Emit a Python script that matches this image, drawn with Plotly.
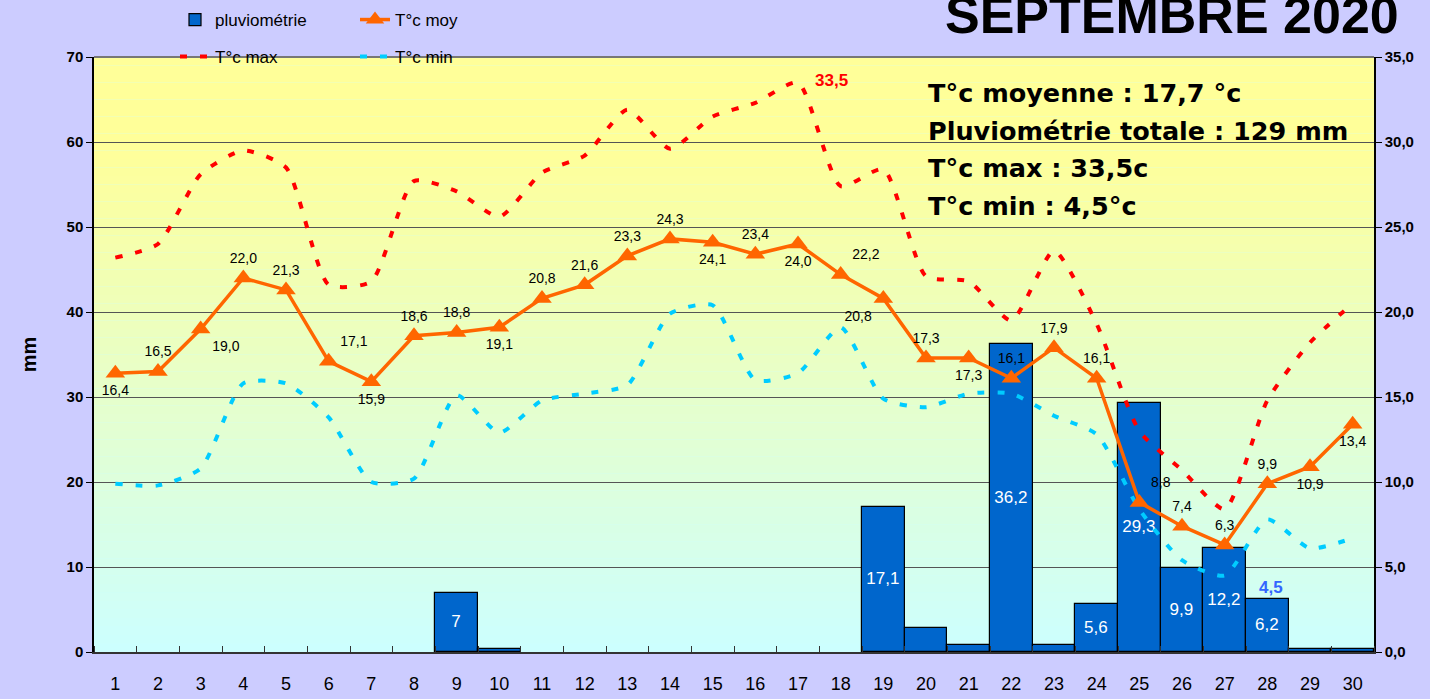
import plotly.graph_objects as go

days = list(range(1, 31))
pluvio = [0, 0, 0, 0, 0, 0, 0, 0, 7, 0.4, 0, 0, 0, 0, 0, 0, 0, 0, 17.1, 2.8,
          0.8, 36.2, 0.8, 5.6, 29.3, 9.9, 12.2, 6.2, 0.3, 0.3]
t_moy = [16.4, 16.5, 19.0, 22.0, 21.3, 17.1, 15.9, 18.6, 18.8, 19.1, 20.8, 21.6, 23.3, 24.3, 24.1,
         23.4, 24.0, 22.2, 20.8, 17.3, 17.3, 16.1, 17.9, 16.1, 8.8, 7.4, 6.3, 9.9, 10.9, 13.4]
t_max = [23.2, 24.0, 28.1, 29.5, 28.5, 21.6, 21.8, 27.7, 27.1, 25.6, 28.2, 29.2, 31.9, 29.6, 31.5,
         32.3, 33.5, 27.4, 28.4, 22.1, 21.8, 19.5, 23.6, 19.3, 13.0, 10.7, 8.4, 14.8, 18.2, 20.5]
t_min = [9.9, 9.8, 10.8, 15.8, 15.8, 13.8, 10.0, 10.2, 15.1, 12.9, 14.8, 15.2, 15.7, 19.9, 20.4,
         16.0, 16.4, 19.1, 14.9, 14.4, 15.2, 15.2, 13.9, 12.8, 8.4, 5.4, 4.5, 7.8, 6.1, 6.7]
mm_ticks = [0, 10, 20, 30, 40, 50, 60, 70]
t_ticks = [0, 5, 10, 15, 20, 25, 30, 35]
summary = ["T°c moyenne : 17,7 °c", "Pluviométrie totale : 129 mm", "T°c max : 33,5c", "T°c min : 4,5°c"]
title = "SEPTEMBRE 2020"


def fmt(v):
    return ("%g" % v).replace(".", ",")


def fmt1(v):
    return ("%.1f" % v).replace(".", ",")


moy_pos = ["bottom center", "top center", "bottom right", "top center", "top center", "top right",
           "bottom center", "top center", "top center", "bottom center", "top center", "top center",
           "top center", "top center", "bottom center", "top center", "bottom center", "top right",
           "bottom left", "top center", "bottom center", "top center", "top center", "top center",
           "top right", "top center", "top center", "top center", "bottom center", "bottom center"]

FONT = "Liberation Sans, Arial, sans-serif"
HEAVY = "DejaVu Sans, Liberation Sans, sans-serif"
fig = go.Figure()

fig.add_trace(go.Bar(
    x=days, y=[v if v > 0 else None for v in pluvio], name="pluviométrie",
    marker=dict(color="#0066CC", line=dict(color="black", width=1.2)),
    text=[fmt(v) if v >= 5 else "" for v in pluvio],
    textposition="inside", insidetextanchor="middle", textangle=0,
    textfont=dict(color="white", size=17, family=FONT),
    legend="legend", hoverinfo="skip",
))
fig.add_trace(go.Scatter(
    x=days, y=t_max, name="T°c max", yaxis="y2", mode="lines",
    line=dict(color="#FF0000", width=4, dash="7px,13px", shape="spline", smoothing=0.6),
    legend="legend2", hoverinfo="skip",
))
fig.add_trace(go.Scatter(
    x=days, y=t_min, name="T°c min", yaxis="y2", mode="lines",
    line=dict(color="#00CCFF", width=4, dash="7px,13px", shape="spline", smoothing=0.6),
    legend="legend2", hoverinfo="skip",
))
fig.add_trace(go.Scatter(
    x=days, y=t_moy, name="T°c moy", yaxis="y2", mode="lines+markers+text",
    line=dict(color="#FF6600", width=3.5),
    marker=dict(symbol="triangle-up", size=17, color="#FF6600"),
    text=[fmt1(v) for v in t_moy], textposition=moy_pos,
    textfont=dict(color="black", size=14, family=FONT),
    legend="legend", hoverinfo="skip",
))

# gradient background stripes
shapes = []
N = 70
c0 = (0xCC, 0xFF, 0xFF)
c1 = (0xFF, 0xFF, 0x99)
for i in range(N):
    f = (i + 0.5) / N
    g = min(1.0, f / 0.85)
    col = tuple(round(a + (b - a) * g) for a, b in zip(c0, c1))
    shapes.append(dict(type="rect", xref="x domain", yref="y domain", x0=0, x1=1,
                       y0=i / N, y1=(i + 1) / N, fillcolor="rgb(%d,%d,%d)" % col,
                       line=dict(width=0), layer="below"))

PW, PH = 1280, 595
annotations = [
    dict(text="<b>%s</b>" % title, xref="paper", yref="paper", x=(1172 - 94) / PW,
         y=(652 - 46) / PH, xanchor="center", yanchor="bottom", showarrow=False,
         font=dict(size=52, color="black", family=FONT)),
    dict(text="<b>33,5</b>", x=17, y=t_max[16], xref="x", yref="y2", xshift=33, yshift=2,
         showarrow=False, font=dict(size=17, color="#FF0000", family=FONT)),
    dict(text="<b>4,5</b>", x=27, y=t_min[26], xref="x", yref="y2", xshift=46, yshift=-12,
         showarrow=False, font=dict(size=17, color="#3366FF", family=FONT)),
]
for i, s in enumerate(summary):
    annotations.append(dict(text="<b>%s</b>" % s, xref="paper", yref="paper", x=(926 - 94) / PW,
                            y=(652 - 93 - 37.7 * i) / PH, xanchor="left", yanchor="middle",
                            showarrow=False, font=dict(size=25.5, color="black", family=HEAVY)))

fig.update_layout(
    width=1430, height=699,
    margin=dict(l=94, r=56, t=57, b=47, autoexpand=False),
    paper_bgcolor="#CCCCFF", plot_bgcolor="#CCFFFF",
    font=dict(family=FONT, color="black"),
    bargap=0,
    shapes=shapes,
    annotations=annotations,
    showlegend=True,
    legend=dict(orientation="h", x=(175 - 94) / PW, y=(652 - 2) / PH, xanchor="left", yanchor="top",
                bgcolor="rgba(0,0,0,0)", font=dict(size=17), entrywidth=135,
                entrywidthmode="pixels", traceorder="normal"),
    legend2=dict(orientation="h", x=(175 - 94) / PW, y=(652 - 39) / PH, xanchor="left", yanchor="top",
                 bgcolor="rgba(0,0,0,0)", font=dict(size=17), entrywidth=135,
                 entrywidthmode="pixels", traceorder="normal"),
    xaxis=dict(range=[0.5, 30.5], tickvals=days, ticktext=[str(d) for d in days],
               ticks="", ticklabelstandoff=15, tickfont=dict(size=18),
               showgrid=False, zeroline=False, showline=True, linecolor="#333333", linewidth=1.5,
               minor=dict(tick0=0.5, dtick=1, ticks="inside", ticklen=6, tickcolor="#333333",
                          showgrid=False)),
    yaxis=dict(range=[0, 70], tickvals=mm_ticks, ticktext=[str(v) for v in mm_ticks],
               ticks="outside", ticklen=6, tickcolor="black",
               tickfont=dict(size=15, family="Liberation Sans, Arial", weight="bold"),
               showgrid=True, gridcolor="#555555", gridwidth=1, zeroline=False,
               showline=True, linecolor="black", linewidth=1.5, mirror=False,
               title=dict(text="<b>mm</b>", font=dict(size=20), standoff=25)),
    yaxis2=dict(range=[0, 35], tickvals=t_ticks, ticktext=[fmt1(v) for v in t_ticks],
                overlaying="y", side="right", ticks="outside", ticklen=6, tickcolor="black",
                tickfont=dict(size=15, weight="bold"), showgrid=False, zeroline=False,
                showline=True, linecolor="black", linewidth=1.5),
)
fig.add_shape(type="line", xref="x domain", yref="y domain", x0=0, x1=1, y0=1, y1=1,
              line=dict(color="#777777", width=2), layer="below")

fig.write_html("out.html", config={"displayModeBar": False},
               post_script="document.body.style.margin='0';document.body.style.background='#CCCCFF';")
